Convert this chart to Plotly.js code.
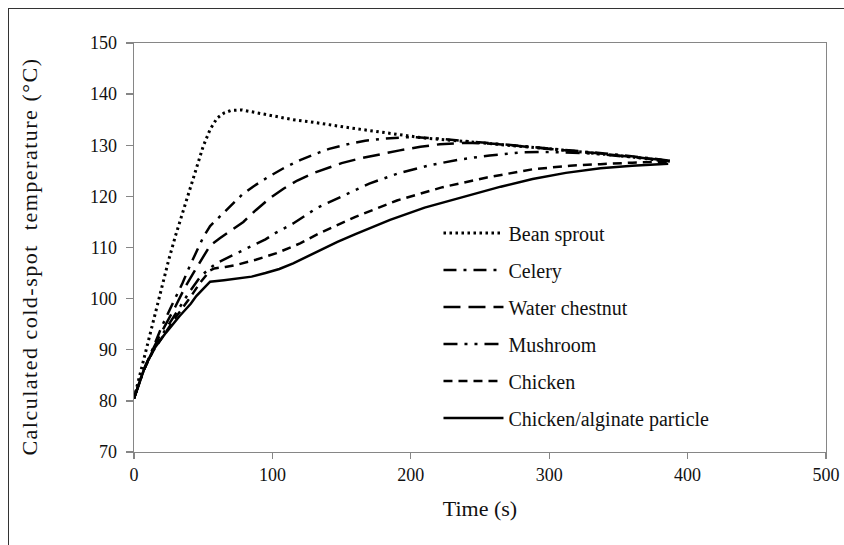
<!DOCTYPE html>
<html>
<head>
<meta charset="utf-8">
<script src="https://cdn.plot.ly/plotly-3.0.1.min.js"></script>
<style>
  html, body { margin: 0; padding: 0; background: #fff; }
  #wrap { position: relative; width: 844px; height: 545px; overflow: hidden; }
  #frame { position: absolute; left: 8px; top: 8px; right: -2px; bottom: -2px;
           border-top: 1.5px solid #333; border-left: 1.5px solid #333; pointer-events: none; }
  #chart { width: 844px; height: 545px; }
  #chart text { font-family: "Liberation Serif", "Times New Roman", serif !important; }
  #chart .annotation-text { letter-spacing: 1.5px; }
</style>
</head>
<body>
<div id="wrap">
  <div id="chart"></div>
  <div id="frame"></div>
</div>
<script>
// Calculated cold-spot temperature histories (°C) against time (s)
const beanSproutT = [0, 5, 10, 15, 20, 25, 30, 35, 40, 45, 50, 55, 60, 65, 70, 78, 90, 103, 115, 127, 140, 156, 175, 192, 210, 228, 250, 270, 300, 330, 360, 387];
const beanSprout  = [80.5, 86, 91.5, 97, 102.5, 107.5, 112.3, 116.8, 121.2, 125.4, 129.8, 133.1, 135.3, 136.3, 136.8, 136.9, 136.3, 135.7, 135.0, 134.6, 134.0, 133.4, 132.7, 132.0, 131.4, 131.0, 130.5, 130.0, 129.3, 128.5, 127.7, 126.8];

const celeryT = [0, 7, 14, 20, 30, 35, 40, 45, 50, 55, 58, 67, 78, 86, 97, 108, 120, 134, 141, 156, 167, 181, 200, 220, 250, 280, 310, 340, 365, 387];
const celery  = [80.5, 86, 90.5, 94.5, 100.2, 103, 106.2, 109.2, 112, 114.2, 115, 117.3, 120.3, 121.9, 123.8, 125.5, 127.1, 128.6, 129.3, 130.3, 130.9, 131.3, 131.6, 131.3, 130.6, 129.9, 129.2, 128.4, 127.7, 127.0];

const waterChestnutT = [0, 7, 14, 20, 30, 37, 42, 48, 55, 62, 70, 79, 88, 98, 108, 118, 130, 139, 150, 163, 178, 192, 207, 221, 240, 260, 280, 310, 340, 365, 387];
const waterChestnut  = [80.5, 86, 90.3, 93.5, 98.5, 102.3, 104.6, 107.2, 110.4, 111.8, 113.3, 115, 117.3, 119.6, 121.5, 123.1, 124.6, 125.5, 126.5, 127.4, 128.3, 129, 129.7, 130.2, 130.5, 130.3, 129.8, 129.1, 128.3, 127.6, 126.9];

const mushroomT = [0, 7, 14, 20, 30, 40, 48, 55, 60, 74, 85, 95, 102, 115, 132, 149, 170, 192, 214, 235, 257, 279, 300, 330, 360, 387];
const mushroom  = [80.5, 86, 90, 92.8, 97, 101.3, 104.3, 106, 107, 108.9, 110.4, 111.6, 112.8, 114.7, 117.7, 119.9, 122.5, 124.6, 126.1, 127.2, 128, 128.6, 128.7, 128.4, 127.7, 127.0];

const chickenT = [0, 7, 14, 20, 30, 40, 48, 55, 58, 66, 74, 88, 103, 120, 134, 160, 190, 223, 255, 288, 315, 337, 360, 387];
const chicken  = [80.5, 86, 89.8, 92.3, 96.3, 100, 103.2, 105.5, 105.9, 106.2, 106.6, 107.6, 108.9, 110.8, 112.8, 116, 119.2, 121.8, 123.7, 125.3, 126, 126.3, 126.6, 126.8];

const alginateT = [0, 8, 14, 23, 33, 41, 45, 50, 55, 65, 74, 85, 95, 105, 115, 125, 134, 147, 160, 172, 185, 210, 240, 265, 288, 312, 337, 360, 386];
const alginate  = [80.5, 86.7, 90, 93.3, 96.6, 99, 100.5, 102, 103.3, 103.6, 103.9, 104.3, 105, 105.8, 106.9, 108.2, 109.5, 111.1, 112.6, 114, 115.4, 117.8, 120, 121.9, 123.4, 124.6, 125.5, 126, 126.4];

const names = ['Bean sprout', 'Celery', 'Water chestnut', 'Mushroom', 'Chicken', 'Chicken/alginate particle'];
const xTicks = [0, 100, 200, 300, 400, 500];
const yTicks = [70, 80, 90, 100, 110, 120, 130, 140, 150];

const series = [
  {x: beanSproutT, y: beanSprout, dash: '2.5px,3.5px', w: 3},
  {x: celeryT, y: celery, dash: '13px,7px,3px,7px', w: 2.5},
  {x: waterChestnutT, y: waterChestnut, dash: '17px,8px', w: 2.5},
  {x: mushroomT, y: mushroom, dash: '14px,7px,3px,7px,3px,7px', w: 2.5},
  {x: chickenT, y: chicken, dash: '9px,6px', w: 2.5},
  {x: alginateT, y: alginate, dash: 'solid', w: 2.5}
];

const traces = series.map((s, i) => ({
  type: 'scatter',
  mode: 'lines',
  x: s.x,
  y: s.y,
  name: names[i],
  legendgroup: 'g' + i,
  line: {color: '#000', width: s.w, dash: s.dash, shape: 'linear'},
  hoverinfo: 'skip'
}));

const serif = 'Liberation Serif';

const layout = {
  width: 844,
  height: 545,
  margin: {l: 134, r: 18, t: 43, b: 93},
  paper_bgcolor: '#fff',
  plot_bgcolor: '#fff',
  font: {family: serif, color: '#111'},
  showlegend: true,
  legend: {
    x: 0.44, y: 0.583, xanchor: 'left', yanchor: 'top',
    traceorder: 'grouped', tracegroupgap: 8,
    bgcolor: 'rgba(0,0,0,0)',
    font: {family: serif, size: 20, color: '#111'},
    itemwidth: 60
  },
  xaxis: {
    range: [0, 500],
    tickvals: xTicks,
    ticktext: xTicks.map(String),
    ticks: 'outside', ticklen: 6, tickcolor: '#868686', tickwidth: 1.3,
    showline: true, linecolor: '#868686', linewidth: 1.3, mirror: true,
    showgrid: false, zeroline: false,
    tickfont: {family: serif, size: 18, color: '#111'},
    title: {text: 'Time (s)', font: {family: serif, size: 22, color: '#111'}, standoff: 16}
  },
  yaxis: {
    range: [70, 150],
    tickvals: yTicks,
    ticktext: yTicks.map(String),
    ticks: 'outside', ticklen: 7, tickcolor: '#868686', tickwidth: 1.3,
    ticklabelstandoff: 5,
    showline: true, linecolor: '#868686', linewidth: 1.3, mirror: true,
    showgrid: false, zeroline: false,
    tickfont: {family: serif, size: 18, color: '#111'}
  },
  annotations: [{
    // y-axis title, set a little below the plot centre
    text: 'Calculated cold-spot  temperature (°C)',
    xref: 'paper', yref: 'paper',
    x: -0.150, y: 0.477,
    xanchor: 'center', yanchor: 'middle',
    textangle: -90, showarrow: false,
    font: {family: serif, size: 22, color: '#111'}
  }]
};

Plotly.newPlot('chart', traces, layout, {displayModeBar: false, staticPlot: true});
</script>
</body>
</html>
